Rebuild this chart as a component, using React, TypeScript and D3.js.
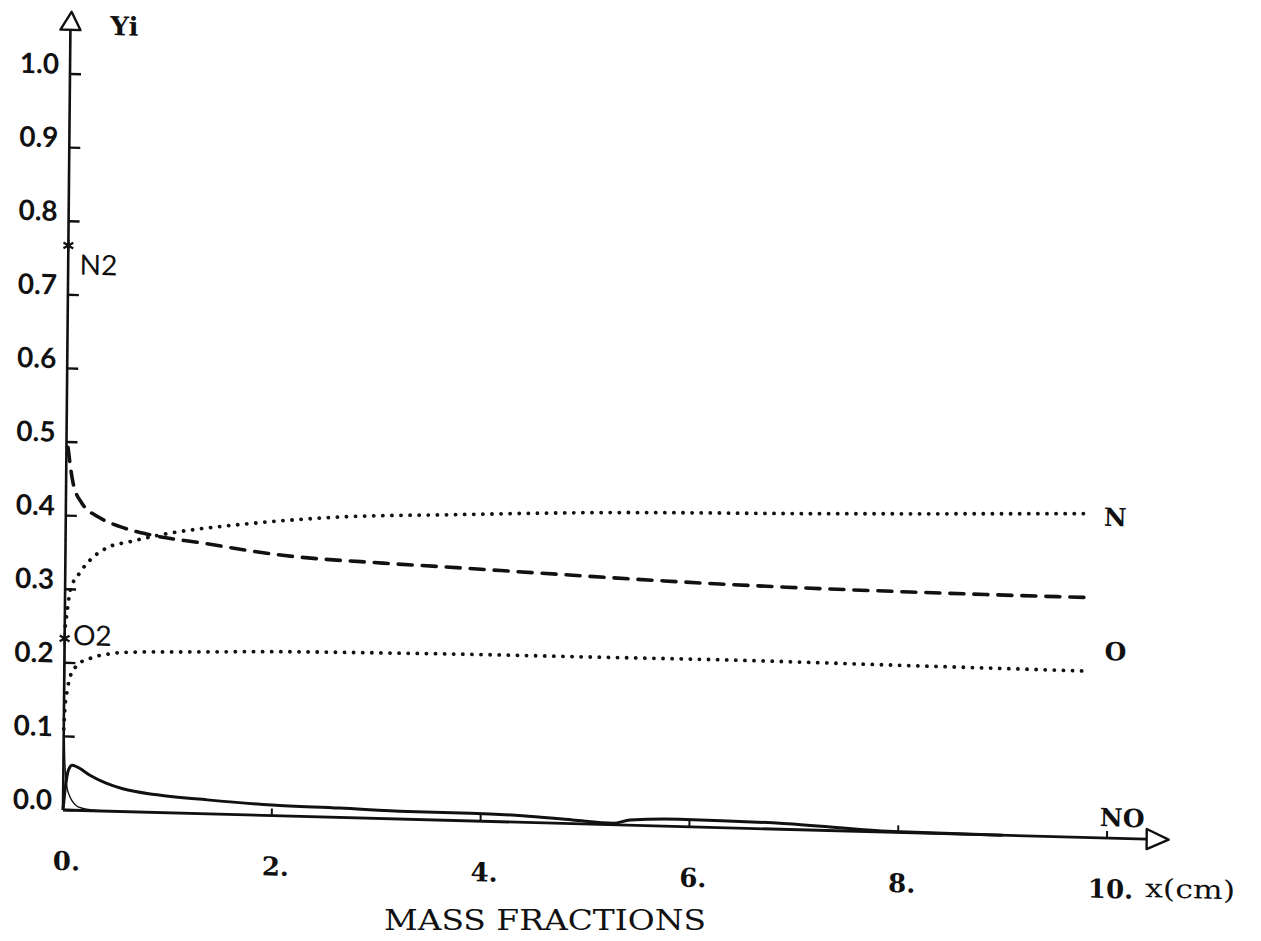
import React, { useEffect, useRef } from 'react';
import * as d3 from 'd3';

// Axis ticks
const yTicks = [0.0, 0.1, 0.2, 0.3, 0.4, 0.5, 0.6, 0.7, 0.8, 0.9, 1.0];
const yTickLabels = ["0.0", "0.1", "0.2", "0.3", "0.4", "0.5", "0.6", "0.7", "0.8", "0.9", "1.0"];
const xTicks = [0, 2, 4, 6, 8, 10];
const xTickLabels = ["0.", "2.", "4.", "6.", "8.", "10."];

// N (dotted, upper)
const nX = [0.005, 0.02, 0.05, 0.14, 0.24, 0.4, 0.62, 0.81, 1.0, 1.29, 1.6, 2.08, 2.72, 3.65, 5.0, 7.2, 9.82];
const nY = [0.25, 0.268, 0.299, 0.323, 0.341, 0.358, 0.367, 0.374, 0.38, 0.387, 0.393, 0.401, 0.409, 0.415, 0.423, 0.43, 0.44];

// N2 (dashed)
const n2X = [0.015, 0.066, 0.15, 0.33, 0.52, 0.81, 1.29, 2.08, 3.04, 3.65, 4.57, 5.74, 6.91, 8.09, 9.5, 9.82];
const n2Y = [0.493, 0.445, 0.418, 0.398, 0.387, 0.377, 0.368, 0.354, 0.347, 0.344, 0.339, 0.333, 0.329, 0.327, 0.326, 0.326];

// O (dotted, lower)
const oX = [0.0, 0.01, 0.03, 0.055, 0.13, 0.245, 0.44, 0.66, 1.13, 2.09, 3.05, 3.66, 5.0, 6.46, 8.0, 9.82];
const oY = [0.11, 0.14, 0.163, 0.181, 0.198, 0.207, 0.214, 0.217, 0.219, 0.223, 0.225, 0.226, 0.227, 0.228, 0.227, 0.226];

// NO (thick solid)
const noX = [0, 0.02, 0.05, 0.085, 0.13, 0.25, 0.41, 0.57, 0.9, 1.38, 2.0, 2.65, 3.3, 3.9, 4.4, 4.88, 5.27, 5.43, 5.9, 6.9, 7.95, 9.0];
const noY = [0, 0.03, 0.055, 0.061, 0.059, 0.0485, 0.038, 0.031, 0.024, 0.019, 0.0144, 0.0128, 0.0105, 0.0105, 0.009, 0.005, 0.002, 0.007, 0.01, 0.008, 0.001, 0.0];

// O2 (thin solid)
const o2X = [0, 0.004, 0.01, 0.02, 0.036, 0.06, 0.085, 0.13, 0.19, 0.3, 0.45];
const o2Y = [0.233, 0.12, 0.077, 0.05, 0.031, 0.02, 0.013, 0.006, 0.003, 0.001, 0];

// initial values (stars)
const starX = [0, 0];
const starY = [0.767, 0.233];

const App: React.FC = () => {
  const svgRef = useRef<SVGSVGElement>(null);

  useEffect(() => {
    if (!svgRef.current) return;
    const svg = d3.select(svgRef.current);
    svg.selectAll("*").remove();

    svg.append("rect").attr("width", 1261).attr("height", 941).attr("fill", "#fff");

    // the scan is slightly skewed, so the plot frame is too
    const g = svg.append("g")
      .attr("transform", "matrix(1, 0.0268, -0.0095, 1, 63, 810)");

    const xScale = d3.scaleLinear().domain([0, 10]).range([0, 1044]);
    const yScale = d3.scaleLinear().domain([0, 1]).range([0, -736]);

    const ink = "#111";
    const serif = "'DejaVu Serif', 'Liberation Serif', serif";
    const sans = "Lato, 'Open Sans', sans-serif";

    const line = d3.line<[number, number]>()
      .x(d => xScale(d[0]))
      .y(d => yScale(d[1]))
      .curve(d3.curveMonotoneX);

    const zip = (xs: number[], ys: number[]) => xs.map((x, i) => [x, ys[i]] as [number, number]);

    // Y axis
    const yTop = yScale(1.06);
    g.append("line")
      .attr("x1", 0).attr("y1", 0)
      .attr("x2", 0).attr("y2", yTop)
      .attr("stroke", ink).attr("stroke-width", 2.6);
    g.append("path")
      .attr("d", `M-10,${yTop} L10,${yTop} L1,${yTop - 18} Z`)
      .attr("fill", "#fff").attr("stroke", ink).attr("stroke-width", 2.4)
      .attr("stroke-linejoin", "round");

    g.selectAll(".ytick")
      .data(yTicks)
      .enter()
      .append("line")
      .attr("class", "ytick")
      .attr("x1", 0).attr("x2", 11)
      .attr("y1", d => yScale(d)).attr("y2", d => yScale(d))
      .attr("stroke", ink).attr("stroke-width", 2.4);

    g.selectAll(".ylabel")
      .data(yTicks)
      .enter()
      .append("text")
      .attr("class", "ylabel")
      .attr("x", -11)
      .attr("y", d => yScale(d))
      .attr("text-anchor", "end")
      .style("font-family", sans)
      .style("font-weight", 700)
      .style("font-size", "28px")
      .style("fill", ink)
      .text((d, i) => yTickLabels[i]);

    g.append("text")
      .attr("x", 40).attr("y", yTop + 4)
      .style("font-family", serif).style("font-weight", 700)
      .style("font-size", "26px").style("fill", ink)
      .text("Yi");

    // X axis
    const xEnd = xScale(10.38);
    g.append("line")
      .attr("x1", 0).attr("y1", 0)
      .attr("x2", xEnd).attr("y2", 0)
      .attr("stroke", ink).attr("stroke-width", 2.8);
    g.append("path")
      .attr("d", `M${xEnd},-10 L${xEnd},10 L${xEnd + 22},0 Z`)
      .attr("fill", "#fff").attr("stroke", ink).attr("stroke-width", 2.4)
      .attr("stroke-linejoin", "round");

    g.selectAll(".xtick")
      .data(xTicks.slice(1))
      .enter()
      .append("line")
      .attr("class", "xtick")
      .attr("x1", d => xScale(d)).attr("x2", d => xScale(d))
      .attr("y1", 0).attr("y2", -7)
      .attr("stroke", ink).attr("stroke-width", 2);

    g.selectAll(".xlabel")
      .data(xTicks)
      .enter()
      .append("text")
      .attr("class", "xlabel")
      .attr("x", d => xScale(d) + 4)
      .attr("y", 60)
      .attr("text-anchor", "middle")
      .style("font-family", serif)
      .style("font-weight", 700)
      .style("font-size", "26px")
      .style("fill", ink)
      .text((d, i) => xTickLabels[i]);

    g.append("text")
      .attr("x", xScale(10.37)).attr("y", 58)
      .attr("textLength", 90).attr("lengthAdjust", "spacingAndGlyphs")
      .style("font-family", serif)
      .style("font-size", "26px").style("fill", ink)
      .text("x(cm)");

    // Curves
    g.append("path")
      .attr("d", line(zip(o2X, o2Y)))
      .attr("fill", "none").attr("stroke", ink).attr("stroke-width", 1.4);

    g.append("path")
      .attr("d", line(zip(noX, noY)))
      .attr("fill", "none").attr("stroke", ink).attr("stroke-width", 3);

    g.append("path")
      .attr("d", line(zip(n2X, n2Y)))
      .attr("fill", "none").attr("stroke", ink).attr("stroke-width", 3.6)
      .attr("stroke-linecap", "round")
      .attr("stroke-dasharray", "14 10");

    [zip(nX, nY), zip(oX, oY)].forEach(pts => {
      g.append("path")
        .attr("d", line(pts))
        .attr("fill", "none").attr("stroke", ink).attr("stroke-width", 3.8)
        .attr("stroke-linecap", "round")
        .attr("stroke-dasharray", "0.1 9");
    });

    // initial values
    g.selectAll(".star")
      .data(zip(starX, starY))
      .enter()
      .append("path")
      .attr("class", "star")
      .attr("transform", d => `translate(${xScale(d[0])},${yScale(d[1])})`)
      .attr("d", d3.symbol(d3.symbolAsterisk, 90)())
      .attr("fill", "none").attr("stroke", ink).attr("stroke-width", 2.2);

    // Species labels
    const sansLabels = [
      { text: "N2", x: 0.11, y: 0.728 },
      { text: "O2", x: 0.08, y: 0.2246 }
    ];
    sansLabels.forEach(l => {
      g.append("text")
        .attr("x", xScale(l.x)).attr("y", yScale(l.y))
        .style("font-family", sans)
        .style("font-size", "28px").style("fill", ink)
        .text(l.text);
    });

    const serifLabels = [
      { text: "N", x: 9.94, y: 0.424 },
      { text: "O", x: 9.96, y: 0.2417 },
      { text: "NO", x: 9.93, y: 0.016 }
    ];
    serifLabels.forEach(l => {
      g.append("text")
        .attr("x", xScale(l.x)).attr("y", yScale(l.y))
        .style("font-family", serif).style("font-weight", 700)
        .style("font-size", "25px").style("fill", ink)
        .text(l.text);
    });

    // Title
    svg.append("text")
      .attr("x", 545).attr("y", 930)
      .attr("text-anchor", "middle")
      .attr("textLength", 322).attr("lengthAdjust", "spacingAndGlyphs")
      .style("font-family", serif)
      .style("font-size", "27px").style("fill", ink)
      .text("MASS FRACTIONS");
  }, []);

  return (
    <svg
      ref={svgRef}
      width={1261}
      height={941}
      style={{ position: "absolute", left: 0, top: 0, background: "#fff" }}
    ></svg>
  );
};

export default App;
